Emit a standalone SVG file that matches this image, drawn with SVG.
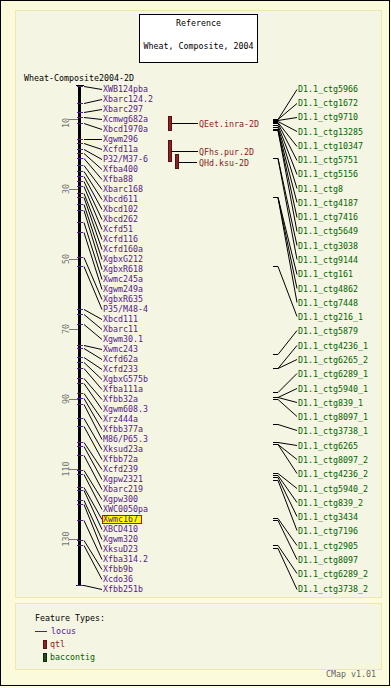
<svg xmlns="http://www.w3.org/2000/svg" width="391" height="688" viewBox="0 0 391 688">
<style>
text{font-family:"DejaVu Sans Mono","Liberation Mono",monospace;font-size:8.3px}
.loc{fill:#551a8b}
.ctg{fill:#006400}
.qtl{fill:#8b1a1a}
.blk{fill:#000}
.tk{stroke:#551a8b;stroke-width:1}
.ln{stroke:#000;stroke-width:1;fill:none}
.sc{fill:#777}
.scl{stroke:#777;stroke-width:1}
.qbar{fill:#8b2323;stroke:#5a1010;stroke-width:1}
</style>
<rect x="0" y="0" width="391" height="688" fill="#fdfde0"/>
<rect x="0.5" y="0.5" width="389" height="685" fill="#fbfbdc" stroke="#000"/>
<rect x="15.5" y="10.5" width="366" height="587" fill="#f5f5e3" stroke="#eee8aa"/>
<rect x="15.5" y="603.5" width="366" height="66" fill="#f5f5e3" stroke="#eee8aa"/>
<g id="title">
<rect x="139.5" y="14.5" width="118" height="48" fill="#fff" stroke="#000"/>
<text x="198.5" y="26" text-anchor="middle" class="blk">Reference</text>
<text x="198.5" y="49" text-anchor="middle" class="blk">Wheat, Composite, 2004</text>
</g>
<text x="24" y="81" class="blk">Wheat-Composite2004-2D</text>
<g id="chromosome">
<line x1="79.5" y1="85" x2="79.5" y2="586" stroke="#000" stroke-width="3"/>
<line x1="76" y1="85.5" x2="84" y2="85.5" stroke="#000"/>
<line x1="76" y1="585.5" x2="84" y2="585.5" stroke="#000"/>
<g id="scale">
<line x1="69" y1="119.5" x2="78" y2="119.5" class="scl"/><text transform="translate(69,123) rotate(-90)" class="sc" text-anchor="middle">10</text>
<line x1="69" y1="189.5" x2="78" y2="189.5" class="scl"/><text transform="translate(69,189) rotate(-90)" class="sc" text-anchor="middle">30</text>
<line x1="69" y1="259.5" x2="78" y2="259.5" class="scl"/><text transform="translate(69,259) rotate(-90)" class="sc" text-anchor="middle">50</text>
<line x1="69" y1="329.5" x2="78" y2="329.5" class="scl"/><text transform="translate(69,329) rotate(-90)" class="sc" text-anchor="middle">70</text>
<line x1="69" y1="399.5" x2="78" y2="399.5" class="scl"/><text transform="translate(69,399) rotate(-90)" class="sc" text-anchor="middle">90</text>
<line x1="69" y1="469.5" x2="78" y2="469.5" class="scl"/><text transform="translate(69,469) rotate(-90)" class="sc" text-anchor="middle">110</text>
<line x1="69" y1="539.5" x2="78" y2="539.5" class="scl"/><text transform="translate(69,539) rotate(-90)" class="sc" text-anchor="middle">130</text>
</g>
</g>
<g id="connectors">
<path class="ln" d="M84,86.5L102,89.5M84,103.5L102,99.5M84,112.5L102,109.5M84,117.5L102,119.5M84,123.5L102,129.5M84,139.5L102,139.5M84,143.5L102,149.5M84,149.5L102,159.5M84,153.5L102,169.5M84,158.5L102,179.5M84,165.5L102,189.5M84,171.5L102,199.5M84,176.5L102,209.5M84,181.5L102,219.5M84,186.5L102,229.5M84,193.5L102,239.5M84,197.5L102,249.5M84,204.5L102,259.5M84,210.5L102,269.5M84,222.5L102,279.5M84,232.5L102,289.5M84,257.5L102,299.5M84,266.5L102,309.5M84,309.5L102,319.5M84,314.5L102,329.5M84,324.5L102,339.5M84,345.5L102,349.5M84,348.5L102,359.5M84,357.5L102,369.5M84,362.5L102,379.5M84,368.5L102,389.5M84,378.5L102,399.5M84,383.5L102,409.5M84,393.5L102,419.5M84,398.5L102,429.5M84,404.5L102,439.5M84,418.5L102,449.5M84,426.5L102,459.5M84,442.5L102,469.5M84,446.5L102,479.5M84,455.5L102,489.5M84,470.5L102,499.5M84,474.5L102,509.5M84,487.5L102,519.5M84,490.5L102,529.5M84,500.5L102,539.5M84,504.5L102,549.5M84,520.5L102,559.5M84,540.5L102,569.5M84,545.5L102,579.5M84,585.5L102,589.5"/>
<path class="ln" d="M172,123.5H198M172,151.5H198M179,162.5H197"/>
<path class="ln" d="M273,119.5H278L297,89.5M273,119.5H278L297,103.5M273,120.5H278L297,117.5M273,121.5H278L297,131.5M273,122.5H278L297,146.5M273,123.5H278L297,160.5M273,125.5H278L297,174.5M273,127.5H278L297,188.5M273,129.5H278L297,202.5M273,130.5H278L297,217.5M273,130.5H278L297,231.5M273,158.5H278L297,245.5M273,158.5H278L297,259.5M273,197.5H278L297,274.5M273,197.5H278L297,288.5M273,197.5H278L297,302.5M273,266.5H278L297,316.5M273,354.5H278L297,330.5M273,368.5H278L297,345.5M273,368.5H278L297,359.5M273,392.5H278L297,373.5M273,397.5H278L297,388.5M273,397.5H278L297,402.5M273,399.5H278L297,416.5M273,424.5H278L297,430.5M273,442.5H278L297,445.5M273,444.5H278L297,459.5M273,444.5H278L297,473.5M273,473.5H278L297,488.5M273,475.5H278L297,502.5M273,477.5H278L297,516.5M273,480.5H278L297,530.5M273,518.5H278L297,545.5M273,520.5H278L297,559.5M273,545.5H278L297,573.5M273,548.5H278L297,589.5"/>
</g>
<g id="locus-ticks">
<path class="tk" d="M77,86.5H83M77,103.5H83M77,112.5H83M77,117.5H83M77,123.5H83M77,139.5H83M77,143.5H83M77,149.5H83M77,153.5H83M77,158.5H83M77,165.5H83M77,171.5H83M77,176.5H83M77,181.5H83M77,186.5H83M77,193.5H83M77,197.5H83M77,204.5H83M77,210.5H83M77,222.5H83M77,232.5H83M77,257.5H83M77,266.5H83M77,309.5H83M77,314.5H83M77,324.5H83M77,345.5H83M77,348.5H83M77,357.5H83M77,362.5H83M77,368.5H83M77,378.5H83M77,383.5H83M77,393.5H83M77,398.5H83M77,404.5H83M77,418.5H83M77,426.5H83M77,442.5H83M77,446.5H83M77,455.5H83M77,470.5H83M77,474.5H83M77,487.5H83M77,490.5H83M77,500.5H83M77,504.5H83M77,520.5H83M77,540.5H83M77,545.5H83M77,585.5H83"/>
</g>
<g id="loci" class="loc">
<g id="XWB124pba"><text x="103" y="92">XWB124pba</text></g>
<g id="Xbarc124.2"><text x="103" y="102">Xbarc124.2</text></g>
<g id="Xbarc297"><text x="103" y="112">Xbarc297</text></g>
<g id="Xcmwg682a"><text x="103" y="122">Xcmwg682a</text></g>
<g id="Xbcd1970a"><text x="103" y="132">Xbcd1970a</text></g>
<g id="Xgwm296"><text x="103" y="142">Xgwm296</text></g>
<g id="Xcfd11a"><text x="103" y="152">Xcfd11a</text></g>
<g id="P32_M37-6"><text x="103" y="162">P32/M37-6</text></g>
<g id="Xfba400"><text x="103" y="172">Xfba400</text></g>
<g id="Xfba88"><text x="103" y="182">Xfba88</text></g>
<g id="Xbarc168"><text x="103" y="192">Xbarc168</text></g>
<g id="Xbcd611"><text x="103" y="202">Xbcd611</text></g>
<g id="Xbcd102"><text x="103" y="212">Xbcd102</text></g>
<g id="Xbcd262"><text x="103" y="222">Xbcd262</text></g>
<g id="Xcfd51"><text x="103" y="232">Xcfd51</text></g>
<g id="Xcfd116"><text x="103" y="242">Xcfd116</text></g>
<g id="Xcfd160a"><text x="103" y="252">Xcfd160a</text></g>
<g id="XgbxG212"><text x="103" y="262">XgbxG212</text></g>
<g id="XgbxR618"><text x="103" y="272">XgbxR618</text></g>
<g id="Xwmc245a"><text x="103" y="282">Xwmc245a</text></g>
<g id="Xgwm249a"><text x="103" y="292">Xgwm249a</text></g>
<g id="XgbxR635"><text x="103" y="302">XgbxR635</text></g>
<g id="P35_M48-4"><text x="103" y="312">P35/M48-4</text></g>
<g id="Xbcd111"><text x="103" y="322">Xbcd111</text></g>
<g id="Xbarc11"><text x="103" y="332">Xbarc11</text></g>
<g id="Xgwm30.1"><text x="103" y="342">Xgwm30.1</text></g>
<g id="Xwmc243"><text x="103" y="352">Xwmc243</text></g>
<g id="Xcfd62a"><text x="103" y="362">Xcfd62a</text></g>
<g id="Xcfd233"><text x="103" y="372">Xcfd233</text></g>
<g id="XgbxG575b"><text x="103" y="382">XgbxG575b</text></g>
<g id="Xfba111a"><text x="103" y="392">Xfba111a</text></g>
<g id="Xfbb32a"><text x="103" y="402">Xfbb32a</text></g>
<g id="Xgwm608.3"><text x="103" y="412">Xgwm608.3</text></g>
<g id="Xrz444a"><text x="103" y="422">Xrz444a</text></g>
<g id="Xfbb377a"><text x="103" y="432">Xfbb377a</text></g>
<g id="M86_P65.3"><text x="103" y="442">M86/P65.3</text></g>
<g id="Xksud23a"><text x="103" y="452">Xksud23a</text></g>
<g id="Xfbb72a"><text x="103" y="462">Xfbb72a</text></g>
<g id="Xcfd239"><text x="103" y="472">Xcfd239</text></g>
<g id="Xgpw2321"><text x="103" y="482">Xgpw2321</text></g>
<g id="Xbarc219"><text x="103" y="492">Xbarc219</text></g>
<g id="Xgpw300"><text x="103" y="502">Xgpw300</text></g>
<g id="XWC0050pa"><text x="103" y="512">XWC0050pa</text></g>
<g id="Xwmc167"><rect x="102.5" y="515.5" width="39" height="8" fill="#ffff00" stroke="#e00000"/><text x="103" y="522">Xwmc167</text></g>
<g id="XBCD410"><text x="103" y="532">XBCD410</text></g>
<g id="Xgwm320"><text x="103" y="542">Xgwm320</text></g>
<g id="XksuD23"><text x="103" y="552">XksuD23</text></g>
<g id="Xfba314.2"><text x="103" y="562">Xfba314.2</text></g>
<g id="Xfbb9b"><text x="103" y="572">Xfbb9b</text></g>
<g id="Xcdo36"><text x="103" y="582">Xcdo36</text></g>
<g id="Xfbb251b"><text x="103" y="592">Xfbb251b</text></g>
</g>
<g id="qtls">
<g id="QEet.inra-2D"><rect x="168.5" y="116.5" width="3" height="14" class="qbar"/><text x="199" y="127" class="qtl">QEet.inra-2D</text></g>
<g id="QFhs.pur.2D"><rect x="168.5" y="140.5" width="3" height="21" class="qbar"/><text x="199" y="155" class="qtl">QFhs.pur.2D</text></g>
<g id="QHd.ksu-2D"><rect x="175.5" y="154.5" width="3" height="14" class="qbar"/><text x="199" y="166" class="qtl">QHd.ksu-2D</text></g>
</g>
<g id="contigs" class="ctg">
<g id="ctg5966"><text x="298" y="92">D1.1_ctg5966</text></g>
<g id="ctg1672"><text x="298" y="106">D1.1_ctg1672</text></g>
<g id="ctg9710"><text x="298" y="120">D1.1_ctg9710</text></g>
<g id="ctg13285"><text x="298" y="135">D1.1_ctg13285</text></g>
<g id="ctg10347"><text x="298" y="149">D1.1_ctg10347</text></g>
<g id="ctg5751"><text x="298" y="163">D1.1_ctg5751</text></g>
<g id="ctg5156"><text x="298" y="177">D1.1_ctg5156</text></g>
<g id="ctg8"><text x="298" y="192">D1.1_ctg8</text></g>
<g id="ctg4187"><text x="298" y="206">D1.1_ctg4187</text></g>
<g id="ctg7416"><text x="298" y="220">D1.1_ctg7416</text></g>
<g id="ctg5649"><text x="298" y="234">D1.1_ctg5649</text></g>
<g id="ctg3038"><text x="298" y="249">D1.1_ctg3038</text></g>
<g id="ctg9144"><text x="298" y="263">D1.1_ctg9144</text></g>
<g id="ctg161"><text x="298" y="277">D1.1_ctg161</text></g>
<g id="ctg4862"><text x="298" y="292">D1.1_ctg4862</text></g>
<g id="ctg7448"><text x="298" y="306">D1.1_ctg7448</text></g>
<g id="ctg216_1"><text x="298" y="320">D1.1_ctg216_1</text></g>
<g id="ctg5879"><text x="298" y="334">D1.1_ctg5879</text></g>
<g id="ctg4236_1"><text x="298" y="349">D1.1_ctg4236_1</text></g>
<g id="ctg6265_2"><text x="298" y="363">D1.1_ctg6265_2</text></g>
<g id="ctg6289_1"><text x="298" y="377">D1.1_ctg6289_1</text></g>
<g id="ctg5940_1"><text x="298" y="392">D1.1_ctg5940_1</text></g>
<g id="ctg839_1"><text x="298" y="406">D1.1_ctg839_1</text></g>
<g id="ctg8097_1"><text x="298" y="420">D1.1_ctg8097_1</text></g>
<g id="ctg3738_1"><text x="298" y="434">D1.1_ctg3738_1</text></g>
<g id="ctg6265"><text x="298" y="449">D1.1_ctg6265</text></g>
<g id="ctg8097_2"><text x="298" y="463">D1.1_ctg8097_2</text></g>
<g id="ctg4236_2"><text x="298" y="477">D1.1_ctg4236_2</text></g>
<g id="ctg5940_2"><text x="298" y="492">D1.1_ctg5940_2</text></g>
<g id="ctg839_2"><text x="298" y="506">D1.1_ctg839_2</text></g>
<g id="ctg3434"><text x="298" y="520">D1.1_ctg3434</text></g>
<g id="ctg7196"><text x="298" y="534">D1.1_ctg7196</text></g>
<g id="ctg2905"><text x="298" y="549">D1.1_ctg2905</text></g>
<g id="ctg8097"><text x="298" y="563">D1.1_ctg8097</text></g>
<g id="ctg6289_2"><text x="298" y="577">D1.1_ctg6289_2</text></g>
<g id="ctg3738_2"><text x="298" y="592">D1.1_ctg3738_2</text></g>
</g>
<g id="legend">
<text x="35" y="621" class="blk">Feature Types:</text>
<line x1="35" y1="631.5" x2="47" y2="631.5" stroke="#551a8b"/>
<text x="51" y="634" class="loc">locus</text>
<rect x="43.5" y="640.5" width="3" height="8" class="qbar"/>
<text x="50" y="647" class="qtl">qtl</text>
<rect x="43.5" y="653.5" width="3" height="8" fill="#1e4d1e" stroke="#0a2a0a"/>
<text x="50" y="660" class="ctg">baccontig</text>
</g>
<text x="326" y="677" fill="#666">CMap v1.01</text>
</svg>
